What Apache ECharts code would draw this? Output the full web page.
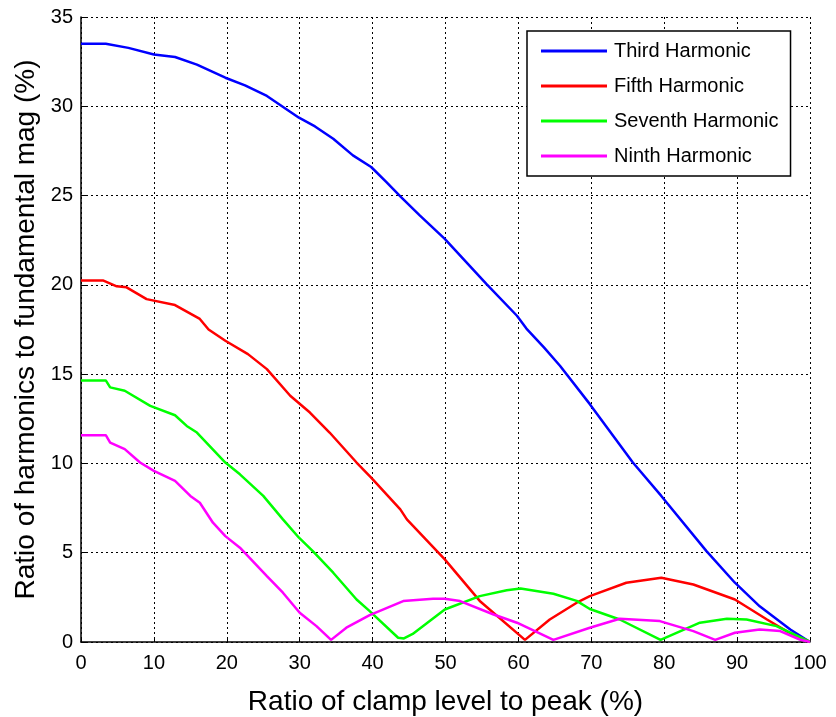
<!DOCTYPE html>
<html>
<head>
<meta charset="utf-8">
<script src="https://cdn.jsdelivr.net/npm/echarts@6/dist/echarts.min.js"></script>
<style>
html,body{margin:0;padding:0;background:#fff;}
#chart{width:836px;height:717px;}
</style>
</head>
<body>
<div id="chart"></div>
<script>
var seriesNames = ['Third Harmonic', 'Fifth Harmonic', 'Seventh Harmonic', 'Ninth Harmonic'];
var seriesColors = ['#0000ff', '#ff0000', '#00ff00', '#ff00ff'];

var third = [[0,33.5],[3.4,33.5],[6.5,33.27],[10,32.9],[12.9,32.76],[15.9,32.33],[19.8,31.6],[22.5,31.17],[25.5,30.58],[29.9,29.36],[32.1,28.87],[34.6,28.18],[37.3,27.25],[39.8,26.6],[41.9,25.75],[43.8,24.95],[46.5,23.88],[49.9,22.57],[55.6,20.05],[59.8,18.27],[61.1,17.55],[63.5,16.5],[65.7,15.47],[69.8,13.32],[75.7,10.05],[79.6,8.18],[85.8,5.09],[89.7,3.32],[93.1,2.0],[97.3,0.7],[100,0]];

var fifth = [[0,20.25],[3.0,20.25],[4.9,19.92],[6.25,19.86],[9.0,19.2],[12.9,18.87],[16.3,18.09],[17.5,17.5],[19.8,16.87],[22.9,16.12],[25.5,15.28],[28.7,13.79],[31.4,12.85],[34.1,11.73],[37.8,10.05],[39.8,9.21],[43.8,7.43],[44.7,6.87],[49.9,4.63],[54.7,2.3],[60.9,0.12],[64.3,1.26],[68,2.2],[69.8,2.57],[74.8,3.32],[79.6,3.6],[84.0,3.22],[89.7,2.38],[94.1,1.26],[97,0.55],[100,0]];

var seventh = [[0,14.65],[3.4,14.65],[4.0,14.26],[6.0,14.07],[9.5,13.22],[12.9,12.7],[14.5,12.1],[15.9,11.73],[19.8,10.05],[21.8,9.39],[25.0,8.18],[27.7,6.87],[29.9,5.84],[31.8,5.09],[34.6,3.88],[37.8,2.38],[39.6,1.73],[43.5,0.24],[44.3,0.2],[45.5,0.45],[49.9,1.82],[54.7,2.57],[58.4,2.9],[60.3,3.0],[64.8,2.7],[68,2.3],[69.8,1.85],[73.9,1.26],[79.5,0.12],[84.9,1.08],[88.6,1.3],[91.3,1.26],[95.4,0.89],[100,0]];

var ninth = [[0,11.58],[3.4,11.58],[4.0,11.17],[6.0,10.8],[8.1,10.05],[10.0,9.58],[12.9,9.02],[15.0,8.18],[16.3,7.8],[18.1,6.68],[19.8,5.93],[21.8,5.28],[25.5,3.69],[27.7,2.76],[30.0,1.64],[32.3,0.89],[34.3,0.12],[36.4,0.8],[39.6,1.5],[44.2,2.29],[48.3,2.42],[49.9,2.42],[52.0,2.29],[56.6,1.54],[59.8,1.08],[64.8,0.12],[69.8,0.8],[73.9,1.3],[79.4,1.17],[84.0,0.61],[87.0,0.12],[89.7,0.52],[93.1,0.7],[95.9,0.61],[98.6,0.14],[100,0]];

var allData = [third, fifth, seventh, ninth];
var FONT = 'Liberation Sans, Arial, sans-serif';

var chart = echarts.init(document.getElementById('chart'), null, {renderer: 'canvas'});
chart.setOption({
  animation: false,
  backgroundColor: '#fff',
  grid: {left: 81, right: 26, top: 17, bottom: 75, containLabel: false, outerBoundsMode: 'none'},
  xAxis: {
    type: 'value', min: 0, max: 100, interval: 10,
    name: 'Ratio of clamp level to peak (%)',
    nameLocation: 'middle', nameGap: 46,
    nameTextStyle: {fontFamily: FONT, fontSize: 28, color: '#000'},
    axisLine: {show: true, lineStyle: {color: '#000', width: 1.5}},
    axisTick: {show: true, inside: true, length: 5, lineStyle: {color: '#000'}},
    axisLabel: {fontFamily: FONT, fontSize: 20, color: '#000', margin: 11},
    splitLine: {show: true, lineStyle: {color: '#000', type: [2, 3], width: 1}}
  },
  yAxis: {
    type: 'value', min: 0, max: 35, interval: 5,
    name: 'Ratio of harmonics to fundamental mag (%)',
    nameLocation: 'middle', nameGap: 37,
    nameTextStyle: {fontFamily: FONT, fontSize: 28, color: '#000'},
    axisLine: {show: true, lineStyle: {color: '#000', width: 1.5}},
    axisTick: {show: true, inside: true, length: 5, lineStyle: {color: '#000'}},
    axisLabel: {fontFamily: FONT, fontSize: 20, color: '#000', margin: 8},
    splitLine: {show: true, lineStyle: {color: '#000', type: [2, 3], width: 1}}
  },
  legend: {
    show: true,
    orient: 'vertical',
    left: 527, top: 31,
    padding: [10, 12, 10, 14],
    itemGap: 15,
    itemWidth: 66, itemHeight: 3,
    icon: 'rect',
    backgroundColor: '#fff',
    borderColor: '#000', borderWidth: 1.5,
    textStyle: {fontFamily: FONT, fontSize: 20, color: '#000', padding: [0, 0, 0, 2]},
    data: seriesNames
  },
  series: allData.map(function (d, i) {
    return {
      name: seriesNames[i],
      type: 'line',
      data: d,
      showSymbol: false,
      symbol: 'none',
      lineStyle: {color: seriesColors[i], width: 2.5},
      itemStyle: {color: seriesColors[i]},
      z: 3
    };
  })
});
</script>
</body>
</html>
